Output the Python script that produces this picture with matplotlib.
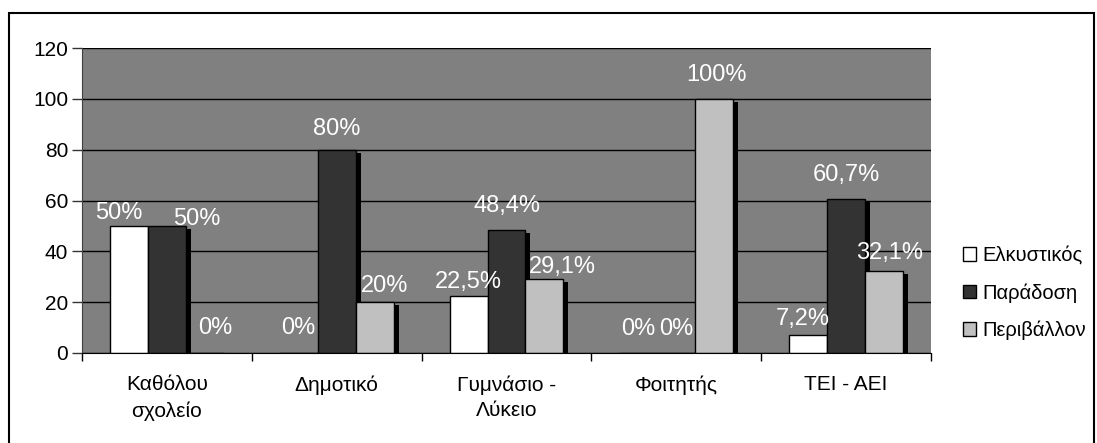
import matplotlib.pyplot as plt
import numpy as np
from matplotlib.patches import Rectangle, Patch

plt.rcParams['font.family'] = ['Liberation Sans', 'DejaVu Sans']

categories = ['Καθόλου\nσχολείο', 'Δημοτικό', 'Γυμνάσιο -\nΛύκειο', 'Φοιτητής', 'ΤΕΙ - ΑΕΙ']
seriesNames = ['Ελκυστικός', 'Παράδοση', 'Περιβάλλον']
elkystikos = [50, 0, 22.5, 0, 7.2]
paradosi = [50, 80, 48.4, 0, 60.7]
perivallon = [0, 20, 29.1, 100, 32.1]

colors = ['#ffffff', '#333333', '#c0c0c0']
# label nudges in pixels (dx, dy above bar top), like excel placed them
nudges = [
    [(-10, 13), (0, 25), (0, 14), (0, 24), (-5, 16)],
    [(30, 7), (0, 21), (0, 24), (0, 24), (0, 24)],
    [(10, 25), (10, 16), (18, 12), (2, 24), (6, 18)],
]

def pctLabel(v):
    s = ('%.1f' % v).rstrip('0').rstrip('.')
    return s.replace('.', ',') + '%'

fig = plt.figure(figsize=(10.97, 4.43), dpi=100)
ax = fig.add_axes([82 / 1097, 1 - 353 / 443, (931 - 82) / 1097, (353 - 48) / 443])
ax.set_facecolor('#808080')

x = np.arange(len(categories))
width = 0.2235
pxX = 849 / 5.0      # pixels per category
pxY = 305 / 120.0    # pixels per unit

allSeries = [elkystikos, paradosi, perivallon]
for i, vals in enumerate(allSeries):
    pos = x + (i - 1) * width
    vals = np.array(vals)
    # shadow
    ax.bar(pos + 5 / pxX, np.clip(vals - 3 / pxY, 0, None), width, color='black',
           linewidth=0, zorder=2)
    ax.bar(pos, vals, width, color=colors[i], edgecolor='black', linewidth=1,
           zorder=3, label=seriesNames[i])
    for j, v in enumerate(vals):
        dx, dy = nudges[i][j]
        ax.annotate(pctLabel(v), (pos[j], v), xytext=(dx, dy), textcoords='offset pixels',
                    ha='center', va='center', color='white', fontsize=17, zorder=5)

ax.set_xlim(-0.5, 4.5)
ax.set_ylim(0, 120)
ax.set_yticks(range(0, 121, 20))
ax.yaxis.grid(True, color='black', linewidth=1)
ax.set_axisbelow(True)
ax.tick_params(axis='y', labelsize=15, length=7, width=1, color='#333333', pad=3)

ax.set_xticks(x)
ax.set_xticklabels(categories, fontsize=15, linespacing=1.45)
ax.set_xticks(np.arange(-0.5, 5, 1), minor=True)
ax.tick_params(axis='x', which='major', length=0, pad=16)
ax.tick_params(axis='x', which='minor', length=6, width=1, direction='out')

for side in ['top', 'right']:
    ax.spines[side].set_visible(False)
ax.spines['left'].set_color('#404040')
ax.spines['bottom'].set_color('black')
ax.spines['left'].set_zorder(4)
ax.spines['bottom'].set_zorder(4)

handles = [Patch(facecolor=c, edgecolor='black', linewidth=1) for c in colors]
fig.legend(handles, seriesNames, loc='upper left', bbox_to_anchor=(963 / 1097, 1 - 246 / 443),
           frameon=False, fontsize=14.5, handlelength=0.65, handleheight=0.65,
           handletextpad=0.3, labelspacing=0.9, borderaxespad=0, borderpad=0)

fig.patches.append(Rectangle((9 / 1097, -0.05), (1094 - 9) / 1097, 1.05 - 13 / 443,
                             transform=fig.transFigure, fill=False, edgecolor='black',
                             linewidth=1.5, zorder=10))

fig.savefig('out.png', dpi=100)
